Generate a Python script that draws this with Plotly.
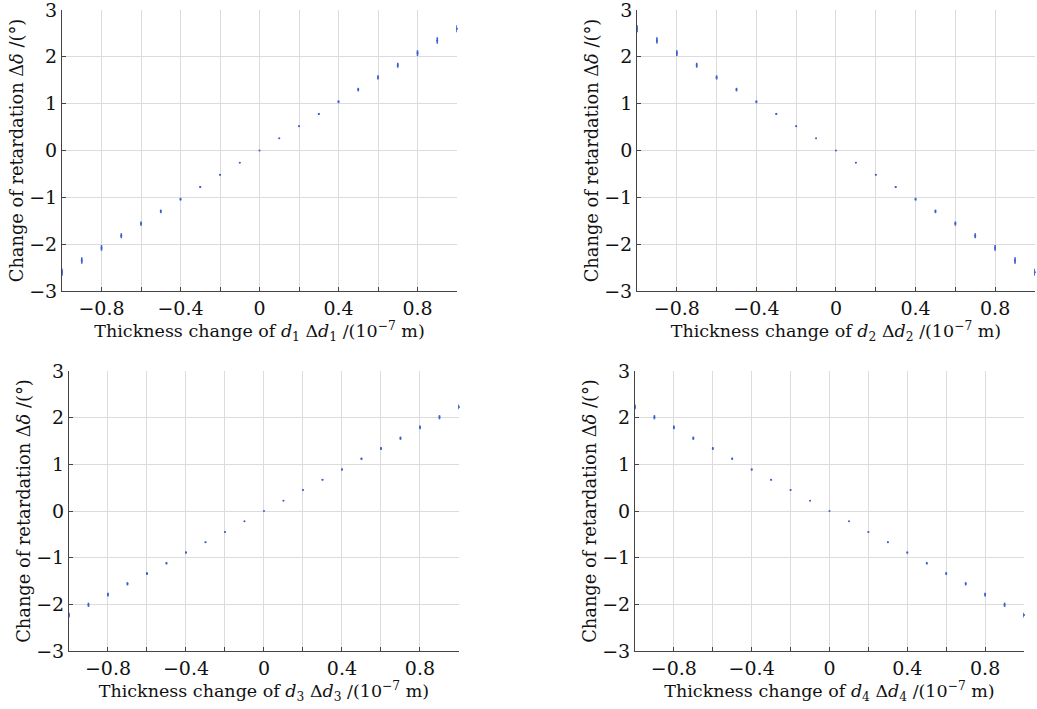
import plotly.graph_objects as go

x_vals = [-1.0, -0.9, -0.8, -0.7, -0.6, -0.5, -0.4, -0.3, -0.2, -0.1, 0.0,
          0.1, 0.2, 0.3, 0.4, 0.5, 0.6, 0.7, 0.8, 0.9, 1.0]
y_d1 = [-2.60, -2.35, -2.08, -1.82, -1.56, -1.30, -1.04, -0.78, -0.52, -0.26, 0.0,
        0.26, 0.52, 0.78, 1.04, 1.30, 1.56, 1.82, 2.08, 2.35, 2.60]
y_d2 = [2.60, 2.35, 2.08, 1.82, 1.56, 1.30, 1.04, 0.78, 0.52, 0.26, 0.0,
        -0.26, -0.52, -0.78, -1.04, -1.30, -1.56, -1.82, -2.08, -2.35, -2.60]
y_d3 = [-2.23, -2.01, -1.79, -1.56, -1.34, -1.12, -0.89, -0.67, -0.45, -0.22, 0.0,
        0.22, 0.45, 0.67, 0.89, 1.12, 1.34, 1.56, 1.79, 2.01, 2.23]
y_d4 = [2.23, 2.01, 1.79, 1.56, 1.34, 1.12, 0.89, 0.67, 0.45, 0.22, 0.0,
        -0.22, -0.45, -0.67, -0.89, -1.12, -1.34, -1.56, -1.79, -2.01, -2.23]
err_a = [0.075, 0.068, 0.06, 0.052, 0.045, 0.038, 0.03, 0.022, 0.015, 0.008, 0.0,
         0.008, 0.015, 0.022, 0.03, 0.038, 0.045, 0.052, 0.06, 0.068, 0.075]
err_b = [0.05, 0.045, 0.04, 0.035, 0.03, 0.025, 0.02, 0.015, 0.01, 0.005, 0.0,
         0.005, 0.01, 0.015, 0.02, 0.025, 0.03, 0.035, 0.04, 0.045, 0.05]

series = [(y_d1, err_a, "1"), (y_d2, err_a, "2"), (y_d3, err_b, "3"), (y_d4, err_b, "4")]
domains = [
    ((0.0598, 0.4407), (0.5896, 0.9859)),
    ((0.6143, 0.998), (0.5896, 0.9859)),
    ((0.0665, 0.4426), (0.0818, 0.4767)),
    ((0.6123, 0.9875), (0.0818, 0.4767)),
]

x_ticks = [-1.0, -0.8, -0.6, -0.4, -0.2, 0.0, 0.2, 0.4, 0.6, 0.8, 1.0]
x_text = ["", "\u22120.8", "", "\u22120.4", "", "0", "", "0.4", "", "0.8", ""]
y_ticks = [-3, -2, -1, 0, 1, 2, 3]
y_text = ["\u22123", "\u22122", "\u22121", "0", "1", "2", "3"]

FONT = "DejaVu Serif"
BLUE = "#3b5fd0"

fig = go.Figure()
layout = dict(
    width=1037, height=709, margin=dict(l=0, r=0, t=0, b=0),
    paper_bgcolor="white", plot_bgcolor="white", showlegend=False,
    font=dict(family=FONT, color="#111"),
)
for i, ((ys, errs, n), (dx, dy)) in enumerate(zip(series, domains)):
    k = "" if i == 0 else str(i + 1)
    fig.add_trace(go.Scatter(
        x=x_vals, y=ys, mode="markers", cliponaxis=False,
        marker=dict(size=2, color=BLUE),
        error_y=dict(type="data", array=errs, visible=True, width=0, thickness=1.6, color=BLUE),
        xaxis="x" + k, yaxis="y" + k,
    ))
    layout["xaxis" + k] = dict(
        domain=list(dx), anchor="y" + k, range=[-1, 1], automargin=False,
        tickmode="array", tickvals=x_ticks, ticktext=x_text,
        ticks="inside", ticklen=4, tickcolor="#444", ticklabeloverflow="allow",
        showgrid=True, gridcolor="#dcdcdc", gridwidth=1, zeroline=False,
        showline=True, linecolor="#444", linewidth=1,
        tickfont=dict(family=FONT, size=19),
        title=dict(text="Thickness change of <i>d</i><sub>%s</sub> \u0394<i>d</i><sub>%s</sub> /(10<sup>\u22127</sup> m)" % (n, n),
                   font=dict(family=FONT, size=17.5), standoff=0),
    )
    layout["yaxis" + k] = dict(
        domain=list(dy), anchor="x" + k, range=[-3, 3], automargin=False,
        tickmode="array", tickvals=y_ticks, ticktext=y_text,
        ticks="inside", ticklen=4, tickcolor="#444", ticklabeloverflow="allow",
        showgrid=True, gridcolor="#dcdcdc", gridwidth=1, zeroline=False,
        showline=True, linecolor="#444", linewidth=1,
        tickfont=dict(family=FONT, size=19),
        title=dict(text="Change of retardation \u0394<i>\u03b4</i> /(\u00b0)",
                   font=dict(family=FONT, size=17.8), standoff=0),
    )
fig.update_layout(**layout)
fig.write_html("out.html", config={"displayModeBar": False},
               post_script="document.body.style.margin='0';document.body.style.overflow='hidden';")
